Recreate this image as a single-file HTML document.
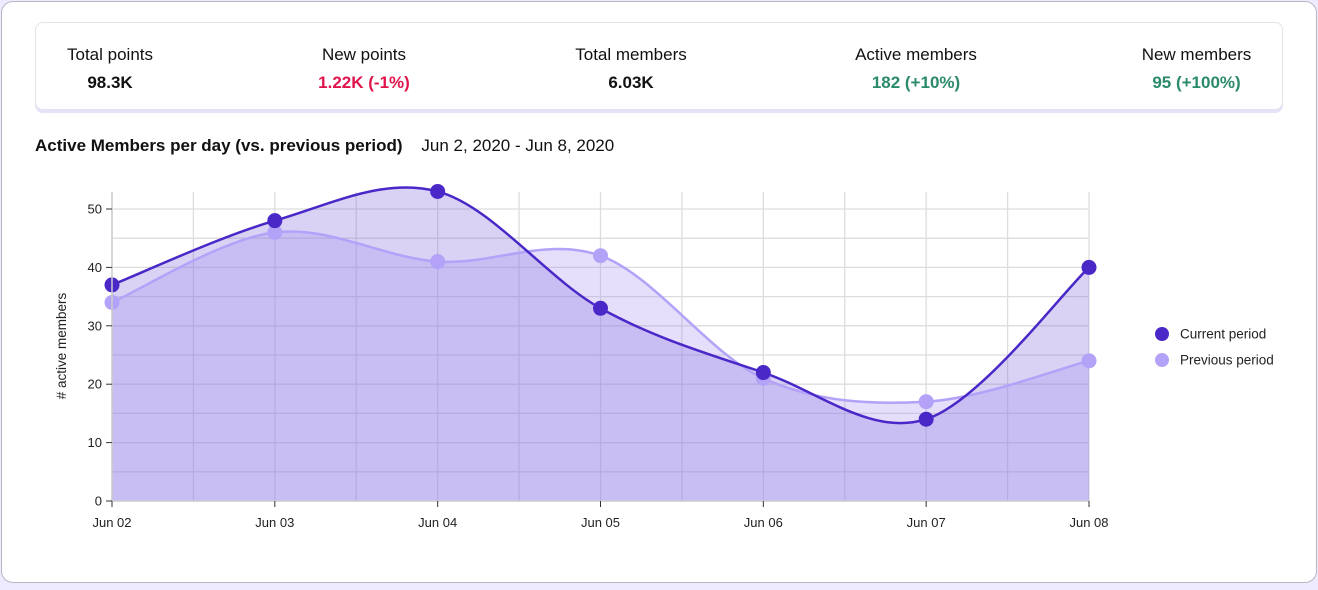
<!DOCTYPE html>
<html><head><meta charset="utf-8"><style>
body{margin:0;width:1318px;height:590px;background:#eeeaff;font-family:"Liberation Sans",sans-serif;overflow:hidden}
.card{position:absolute;left:1px;top:1px;width:1314px;height:580px;background:#fff;border:1px solid #b8b8c0;border-radius:12px}
.kpi{position:absolute;left:33px;top:20px;width:1246px;height:86px;border:1px solid #e2e2ea;border-radius:8px;box-shadow:0 3px 0 #e6e2fa}
.k{position:absolute;top:22px;text-align:center;font-size:17px;color:#111}
.k b{display:block;margin-top:8px;font-size:17px}
.title{position:absolute;left:33px;top:134px;font-size:17px;color:#111}
</style></head><body>
<div class="card">
<div class="kpi">
 <div class="k" style="left:26px;width:96px">Total points<b>98.3K</b></div>
 <div class="k" style="left:268px;width:120px">New points<b style="color:#e0144c">1.22K (-1%)</b></div>
 <div class="k" style="left:520px;width:150px">Total members<b>6.03K</b></div>
 <div class="k" style="left:800px;width:160px">Active members<b style="color:#2a8a6a">182 (+10%)</b></div>
 <div class="k" style="left:1088px;width:145px">New members<b style="color:#2a8a6a">95 (+100%)</b></div>
</div>
<div class="title"><b>Active Members per day (vs. previous period)</b>&nbsp;&nbsp;&nbsp;&nbsp;Jun 2, 2020 - Jun 8, 2020</div>
</div>
<svg id="c" width="1318" height="590" style="position:absolute;left:0;top:0"></svg>
<script>
const categories=["Jun 02","Jun 03","Jun 04","Jun 05","Jun 06","Jun 07","Jun 08"];
const currentValues=[37,48,53,33,22,14,40];
const previousValues=[34,46,41,42,21,17,24];
const yTicks=[0,10,20,30,40,50];
const x0=112,x1=1089,yb=501,yt=209;
const X=i=>x0+(x1-x0)*i/(categories.length-1);
const Y=v=>yb-(yb-yt)*v/50;
const svg=document.getElementById('c');const NS='http://www.w3.org/2000/svg';
function mk(t,a,p){const e=document.createElementNS(NS,t);for(const k in a)e.setAttribute(k,a[k]);(p||svg).appendChild(e);return e;}
function path(vals){const p=vals.map((v,i)=>[X(i),Y(v)]);let d='M'+p[0];for(let i=0;i<p.length-1;i++){const a=p[Math.max(i-1,0)],b=p[i],c=p[i+1],e=p[Math.min(i+2,p.length-1)];
const c1=[b[0]+(c[0]-a[0])/6,b[1]+(c[1]-a[1])/6],c2=[c[0]-(e[0]-b[0])/6,c[1]-(e[1]-b[1])/6];d+='C'+c1+' '+c2+' '+c;}return d;}
const area=d=>d+'L'+X(categories.length-1)+','+yb+'L'+x0+','+yb+'Z';
for(let v=5;v<=50;v+=5){const l=mk('line',{x1:x0,x2:x1,y1:Y(v),y2:Y(v),stroke:'#ddd','stroke-width':1.3});}
for(let i=0;i<categories.length*2-1;i++){const x=x0+(x1-x0)*i/12;const l=mk('line',{x1:x,x2:x,y1:192,y2:yb,stroke:'#ddd','stroke-width':1.3});}
const cd=path(currentValues),pd=path(previousValues);
let a1=mk('path',{d:area(cd),fill:'rgba(120,95,220,0.28)'});
let a2=mk('path',{d:area(pd),fill:'rgba(160,140,240,0.28)'});
let l2=mk('path',{d:pd,fill:'none',stroke:'#b3a2f8','stroke-width':2.5});
let l1=mk('path',{d:cd,fill:'none',stroke:'#4a28c8','stroke-width':2.5});
previousValues.forEach((v,i)=>{const c=mk('circle',{cx:X(i),cy:Y(v),r:7.5,fill:'#b3a2f8'});});
currentValues.forEach((v,i)=>{const c=mk('circle',{cx:X(i),cy:Y(v),r:7.5,fill:'#4a28c8'});});
mk('line',{x1:x0,x2:x1,y1:yb,y2:yb,stroke:'#ccc','stroke-width':1.5});mk('line',{x1:x0,x2:x0,y1:192,y2:yb,stroke:'#ccc','stroke-width':1.5});
yTicks.forEach(v=>{mk('line',{x1:x0-6,x2:x0,y1:Y(v),y2:Y(v),stroke:'#333'});const t=mk('text',{x:x0-10,y:Y(v)+4.5,'text-anchor':'end','font-size':13,fill:'#222'});t.textContent=v;});
categories.forEach((c,i)=>{mk('line',{x1:X(i),x2:X(i),y1:yb,y2:yb+6,stroke:'#333'});const t=mk('text',{x:X(i),y:527,'text-anchor':'middle','font-size':13,fill:'#222'});t.textContent=c;});
const yt2=mk('text',{x:0,y:0,transform:'translate(66,346) rotate(-90)','text-anchor':'middle','font-size':13.5,fill:'#222'});yt2.textContent='# active members';
[['Current period','#4a28c8',334],['Previous period','#b3a2f8',360]].forEach(([n,col,y])=>{const g=mk('g',{});mk('circle',{cx:1162,cy:y,r:7,fill:col},g);const t=mk('text',{x:1180,y:y+4.5,'font-size':13.5,fill:'#222'},g);t.textContent=n;});
</script>
</body></html>
